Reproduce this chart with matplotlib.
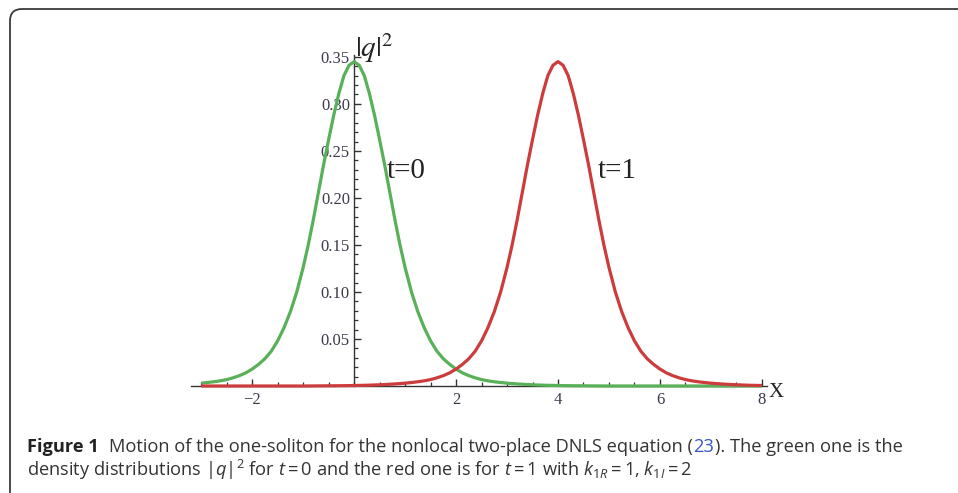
import matplotlib
matplotlib.use('Agg')
import matplotlib.pyplot as plt
from matplotlib.patches import FancyBboxPatch
from matplotlib import font_manager

# ---------------- data ----------------
green_x = [-3.0, -2.875, -2.75, -2.625, -2.5, -2.375, -2.25, -2.125, -2.0, -1.875, -1.75,
           -1.625, -1.5, -1.375, -1.25, -1.125, -1.0, -0.9, -0.8, -0.7, -0.6, -0.5, -0.4,
           -0.3, -0.2, -0.1, 0.0, 0.1, 0.2, 0.3, 0.4, 0.5, 0.6, 0.7, 0.8, 0.9, 1.0,
           1.125, 1.25, 1.375, 1.5, 1.625, 1.75, 1.875, 2.0, 2.125, 2.25, 2.375, 2.5,
           2.625, 2.75, 2.875, 3.0, 3.25, 3.5, 3.75, 4.0, 4.25, 4.5, 4.75, 5.0, 6.5, 8.0]
green_t0 = [0.0030, 0.0037, 0.0045, 0.0055, 0.0068, 0.0087, 0.011, 0.014, 0.018, 0.023, 0.029,
            0.037, 0.048, 0.062, 0.079, 0.100, 0.126, 0.150, 0.177, 0.206, 0.235, 0.262, 0.288,
            0.311, 0.330, 0.341, 0.345, 0.341, 0.330, 0.311, 0.288, 0.262, 0.235, 0.206, 0.177,
            0.150, 0.126, 0.100, 0.079, 0.062, 0.048, 0.037, 0.029, 0.023, 0.018, 0.014, 0.011,
            0.0087, 0.0068, 0.0055, 0.0045, 0.0037, 0.0030, 0.0020, 0.0013, 0.0008, 0.0005,
            0.0003, 0.0002, 0.0001, 0.0, 0.0, 0.0]

red_x = [-3.0, -1.0, -0.75, -0.5, -0.25, 0.0, 0.25, 0.5, 0.75, 1.0, 1.125, 1.25, 1.375, 1.5,
         1.625, 1.75, 1.875, 2.0, 2.125, 2.25, 2.375, 2.5, 2.625, 2.75, 2.875, 3.0, 3.1, 3.2,
         3.3, 3.4, 3.5, 3.6, 3.7, 3.8, 3.9, 4.0, 4.1, 4.2, 4.3, 4.4, 4.5, 4.6, 4.7, 4.8, 4.9,
         5.0, 5.125, 5.25, 5.375, 5.5, 5.625, 5.75, 5.875, 6.0, 6.125, 6.25, 6.375, 6.5, 6.625,
         6.75, 6.875, 7.0, 7.25, 7.5, 7.75, 8.0]
red_t1 = [0.0, 0.0, 0.0001, 0.0002, 0.0003, 0.0005, 0.0008, 0.0013, 0.0020, 0.0030, 0.0037,
          0.0045, 0.0055, 0.0068, 0.0087, 0.011, 0.014, 0.018, 0.023, 0.029, 0.037, 0.048,
          0.062, 0.079, 0.100, 0.126, 0.150, 0.177, 0.206, 0.235, 0.262, 0.288, 0.311, 0.330,
          0.341, 0.345, 0.341, 0.330, 0.311, 0.288, 0.262, 0.235, 0.206, 0.177, 0.150, 0.126,
          0.100, 0.079, 0.062, 0.048, 0.037, 0.029, 0.023, 0.018, 0.014, 0.011, 0.0087, 0.0068,
          0.0055, 0.0045, 0.0037, 0.0030, 0.0020, 0.0013, 0.0008, 0.0005]

xtick_major = [-2, 2, 4, 6, 8]
xtick_labels = ['\u22122', '2', '4', '6', '8']
xtick_minor = [-3.0, -2.5, -1.5, -1.0, -0.5, 0.0, 0.5, 1.0, 1.5, 2.5, 3.0, 3.5,
               4.5, 5.0, 5.5, 6.5, 7.0, 7.5]
ytick_major = [0.05, 0.10, 0.15, 0.20, 0.25, 0.30, 0.35]
ytick_labels = ['0.05', '0.10', '0.15', '0.20', '0.25', '0.30', '0.35']
ytick_minor = [0.01, 0.02, 0.03, 0.04, 0.06, 0.07, 0.08, 0.09, 0.11, 0.12, 0.13, 0.14,
               0.16, 0.17, 0.18, 0.19, 0.21, 0.22, 0.23, 0.24, 0.26, 0.27, 0.28, 0.29,
               0.31, 0.32, 0.33, 0.34]

curve_labels = ['t=0', 't=1']
caption_bold = 'Figure 1'
caption_a = 'Motion of the one-soliton for the nonlocal two-place DNLS equation ('
caption_ref = '23'
caption_c = '). The green one is the'
caption_line2 = (r'density distributions $|q|^2$ for $t = 0$ and the red one is for '
                 r'$t = 1$ with $k_{1R} = 1$, $k_{1I} = 2$')

# ---------------- fonts ----------------
names = {f.name for f in font_manager.fontManager.ttflist}
if 'Liberation Sans Narrow' in names:
    cap_font = 'Liberation Sans Narrow'
elif 'Open Sans' in names:
    cap_font = 'Open Sans'
else:
    cap_font = 'DejaVu Sans'
serif_font = 'Liberation Serif'
plt.rcParams['mathtext.rm'] = cap_font
plt.rcParams['mathtext.it'] = cap_font + ':italic'
plt.rcParams['mathtext.bf'] = cap_font + ':bold'

W, H = 958, 493
fig = plt.figure(figsize=(W / 100, H / 100), dpi=100)
fig.patch.set_facecolor('white')

# border with rounded corner
border = FancyBboxPatch((0.10, -0.6), 10.0, (H - 9) / 100 + 0.6,
                        boxstyle='round,pad=0,rounding_size=0.12',
                        transform=fig.dpi_scale_trans, facecolor='none',
                        edgecolor='#3a3a3a', linewidth=1.3)
fig.add_artist(border)

# ---------------- axes ----------------
ax_left, ax_right = 191, 767
ax_bottom_px, ax_top_px = 386, 55
ax = fig.add_axes([ax_left / W, (H - ax_bottom_px) / H,
                   (ax_right - ax_left) / W, (ax_bottom_px - ax_top_px) / H])
ax.set_facecolor('none')

green_c = '#58b058'
red_c = '#cc3c3c'
ax.plot(green_x, green_t0, color=green_c, lw=2.3, clip_on=False, zorder=4,
        solid_capstyle='butt', solid_joinstyle='round')
ax.plot(red_x, red_t1, color=red_c, lw=2.3, clip_on=False, zorder=5,
        solid_capstyle='butt', solid_joinstyle='round')

ax.set_xlim(-3.2, 8.1)
ax.set_ylim(0, 0.352)

for s in ['top', 'right']:
    ax.spines[s].set_visible(False)
ax.spines['left'].set_position(('data', 0))
ax.spines['bottom'].set_position(('data', 0))
for s in ['left', 'bottom']:
    ax.spines[s].set_color('#333333')
    ax.spines[s].set_linewidth(1.0)
    ax.spines[s].set_zorder(3)

lab_color = '#3a3a4c'
ax.set_xticks(xtick_major)
ax.set_xticklabels(xtick_labels)
ax.set_xticks(xtick_minor, minor=True)
ax.set_yticks(ytick_major)
ax.set_yticklabels(ytick_labels)
ax.set_yticks(ytick_minor, minor=True)
ax.tick_params(axis='both', which='major', direction='in', length=5, width=1.0,
               color='#333333', labelcolor=lab_color, labelsize=12)
ax.tick_params(axis='both', which='minor', direction='in', length=3, width=0.9,
               color='#333333')
ax.tick_params(axis='x', which='major', pad=4)
ax.tick_params(axis='y', which='major', pad=3)
for lab in ax.get_xticklabels() + ax.get_yticklabels():
    lab.set_fontfamily(serif_font)

# axis labels
ax.text(0.01, 0.3596, r'$|q|^2$', fontsize=21, ha='left', va='center',
        math_fontfamily='stix', color='#222222', clip_on=False)
ax.text(8.14, -0.007, 'X', fontsize=15, ha='left', va='center',
        fontfamily=serif_font, color='#222222', clip_on=False)

# curve labels
ax.text(0.64, 0.229, curve_labels[0], fontsize=21, ha='left', va='center',
        fontfamily=serif_font, color='#222222')
ax.text(4.78, 0.229, curve_labels[1], fontsize=21, ha='left', va='center',
        fontfamily=serif_font, color='#222222')

# ---------------- caption ----------------
renderer = fig.canvas.get_renderer()
cap_x0 = 27
line1_base = 452
line2_base = 476
target_w = 908 - 27
txt_color = '#333333'
ref_color = '#3a55c8'


def draw_caption(size):
    arts = []
    x = cap_x0
    t = fig.text(x / W, 1 - line1_base / H, caption_bold, fontsize=size,
                 fontfamily=cap_font, fontweight='bold', color='#222222',
                 va='baseline', ha='left')
    arts.append(t)
    x += t.get_window_extent(renderer).width + size * 0.75
    for s, c in [(caption_a, txt_color), (caption_ref, ref_color), (caption_c, txt_color)]:
        t = fig.text(x / W, 1 - line1_base / H, s, fontsize=size,
                     fontfamily=cap_font, color=c, va='baseline', ha='left')
        arts.append(t)
        x += t.get_window_extent(renderer).width + (size * 0.08 if s == caption_ref else size * 0.05)
    t = fig.text(cap_x0 / W, 1 - line2_base / H, caption_line2, fontsize=size,
                 fontfamily=cap_font, color=txt_color, va='baseline', ha='left',
                 math_fontfamily='custom')
    arts.append(t)
    return arts, x - cap_x0


size0 = 11.0
arts, w = draw_caption(size0)
for a in arts:
    a.remove()
size1 = size0 * target_w / w
arts, w = draw_caption(size1)

fig.savefig('out.png', dpi=100, facecolor='white')
